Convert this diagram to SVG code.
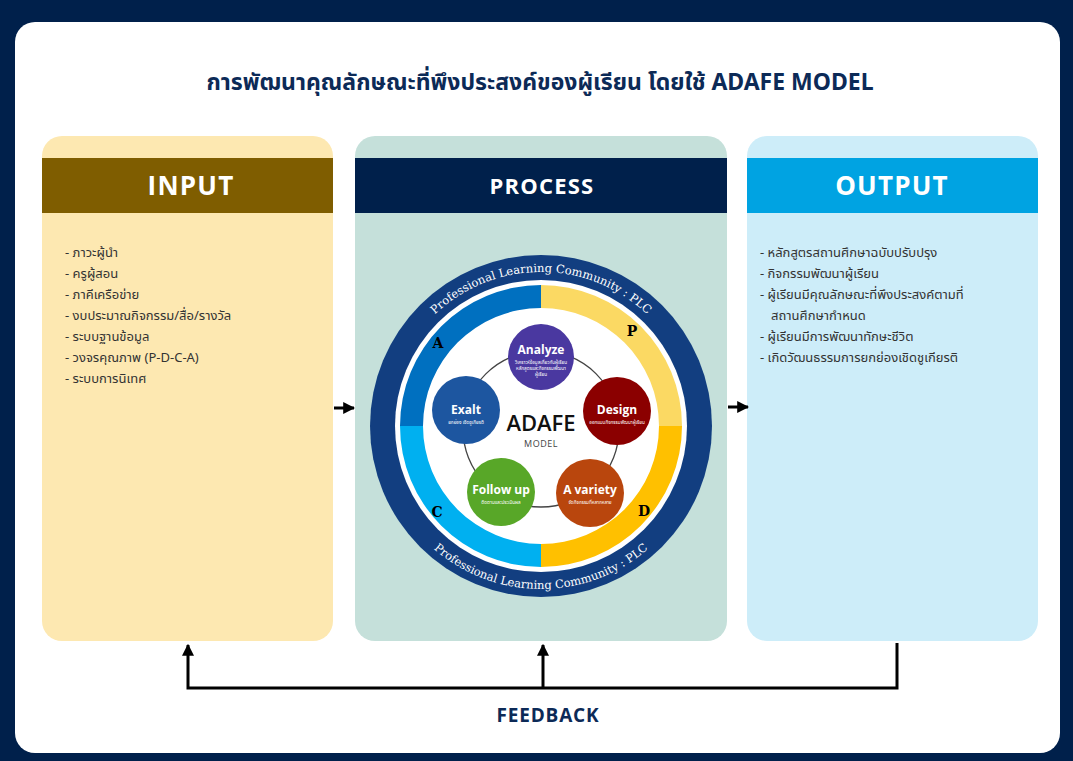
<svg xmlns="http://www.w3.org/2000/svg" width="1073" height="761" viewBox="0 0 1073 761">
<defs>
<style>
.thai{font-family:"Noto Sans","Noto Sans Thai","DejaVu Sans",sans-serif;}
.hdr{font-family:"Open Sans","Inter","Liberation Sans",sans-serif;font-weight:700;fill:#ffffff;text-anchor:middle;letter-spacing:1.2px;}
.item{font-family:"Noto Sans","Noto Sans Thai","DejaVu Sans",sans-serif;font-size:13px;fill:#333333;}
.ntitle{font-family:"Open Sans","Liberation Sans",sans-serif;font-weight:700;font-size:12px;fill:#ffffff;text-anchor:middle;}
.nsub{font-family:"Noto Sans","Noto Sans Thai",sans-serif;font-size:4.6px;fill:#ffffff;text-anchor:middle;}
.pdca{font-family:"DejaVu Serif","Liberation Serif",serif;font-weight:700;font-size:14px;fill:#000000;text-anchor:middle;}
.plc{font-family:"DejaVu Serif","Liberation Serif",serif;font-size:11.5px;fill:#ffffff;}
.fb{stroke:#000000;stroke-width:3;fill:none;}
</style>
<marker id="ah" viewBox="0 0 10 10" refX="9" refY="5" markerWidth="4" markerHeight="4" orient="auto" markerUnits="strokeWidth">
<path d="M0,0 L10,5 L0,10 Z" fill="#000000"/>
</marker>
<path id="plcTop" d="M 387 426 A 154 154 0 0 1 695 426"/>
<path id="plcBot" d="M 378 426 A 163 163 0 0 0 704 426"/>
</defs>

<rect x="0" y="0" width="1073" height="761" fill="#00204b"/>
<rect x="15" y="22" width="1045" height="731" rx="20" ry="20" fill="#ffffff"/>

<text x="540" y="90" class="thai" font-size="23" font-weight="700" fill="#0c2a57" text-anchor="middle">การพัฒนาคุณลักษณะที่พึงประสงค์ของผู้เรียน โดยใช้ ADAFE MODEL</text>

<g id="input">
<rect x="42" y="136" width="291" height="505" rx="20" fill="#fde8b1"/>
<rect x="42" y="158" width="291" height="55" fill="#7f5d00"/>
<text x="191" y="195" class="hdr" font-size="26">INPUT</text>
<text x="65" y="257" class="item">- ภาวะผู้นำ</text>
<text x="65" y="278" class="item">- ครูผู้สอน</text>
<text x="65" y="299" class="item">- ภาคีเครือข่าย</text>
<text x="65" y="320" class="item">- งบประมาณกิจกรรม/สื่อ/รางวัล</text>
<text x="65" y="341" class="item">- ระบบฐานข้อมูล</text>
<text x="65" y="362" class="item">- วงจรคุณภาพ (P-D-C-A)</text>
<text x="65" y="383" class="item">- ระบบการนิเทศ</text>
</g>

<g id="process">
<rect x="355" y="136" width="372" height="505" rx="20" fill="#c5e0da"/>
<rect x="355" y="158" width="372" height="55" fill="#00204b"/>
<text x="542" y="194" class="hdr" font-size="22">PROCESS</text>
</g>

<g id="output">
<rect x="747" y="136" width="291" height="505" rx="20" fill="#cdedf9"/>
<rect x="747" y="158" width="291" height="55" fill="#00a3e2"/>
<text x="892" y="195" class="hdr" font-size="26">OUTPUT</text>
<text x="760" y="257" class="item">- หลักสูตรสถานศึกษาฉบับปรับปรุง</text>
<text x="760" y="278" class="item">- กิจกรรมพัฒนาผู้เรียน</text>
<text x="760" y="299" class="item">- ผู้เรียนมีคุณลักษณะที่พึงประสงค์ตามที่</text>
<text x="771" y="320" class="item">สถานศึกษากำหนด</text>
<text x="760" y="341" class="item">- ผู้เรียนมีการพัฒนาทักษะชีวิต</text>
<text x="760" y="362" class="item">- เกิดวัฒนธรรมการยกย่องเชิดชูเกียรติ</text>
</g>

<g id="adafe-wheel">
<circle cx="541" cy="426" r="171" fill="#123e80"/>
<circle cx="541" cy="426" r="146" fill="#ffffff"/>
<path d="M 400 426 A 141 141 0 0 1 541 285 L 541 308 A 118 118 0 0 0 423 426 Z" fill="#0070c0"/>
<path d="M 541 285 A 141 141 0 0 1 682 426 L 659 426 A 118 118 0 0 0 541 308 Z" fill="#fbd963"/>
<path d="M 682 426 A 141 141 0 0 1 541 567 L 541 544 A 118 118 0 0 0 659 426 Z" fill="#ffc000"/>
<path d="M 541 567 A 141 141 0 0 1 400 426 L 423 426 A 118 118 0 0 0 541 544 Z" fill="#00b0f0"/>
<text class="plc"><textPath href="#plcTop" startOffset="50%" text-anchor="middle">Professional Learning Community : PLC</textPath></text>
<text class="plc"><textPath href="#plcBot" startOffset="50%" text-anchor="middle">Professional Learning Community : PLC</textPath></text>
<text x="438" y="348" class="pdca">A</text>
<text x="632" y="336" class="pdca">P</text>
<text x="437" y="517" class="pdca">C</text>
<text x="644" y="516" class="pdca">D</text>
<circle cx="541" cy="429" r="78" fill="none" stroke="#444444" stroke-width="1.3"/>
<text x="541" y="431" font-family="'Open Sans','Liberation Sans',sans-serif" font-weight="600" font-size="22" fill="#111111" text-anchor="middle">ADAFE</text>
<text x="541" y="447" font-family="'Open Sans','Liberation Sans',sans-serif" font-size="9" fill="#444444" text-anchor="middle" letter-spacing="0.5">MODEL</text>
</g>

<g id="analyze">
<circle cx="541" cy="357" r="33" fill="#4a38a0"/>
<text x="541" y="354" class="ntitle">Analyze</text>
<text x="541" y="364" class="nsub">วิเคราะห์ข้อมูลเกี่ยวกับผู้เรียน</text>
<text x="541" y="370" class="nsub">หลักสูตรและกิจกรรมพัฒนา</text>
<text x="541" y="376" class="nsub">ผู้เรียน</text>
</g>
<g id="design">
<circle cx="617" cy="411" r="34" fill="#8b0000"/>
<text x="617" y="414" class="ntitle">Design</text>
<text x="617" y="424" class="nsub">ออกแบบกิจกรรมพัฒนาผู้เรียน</text>
</g>
<g id="avariety">
<circle cx="590" cy="493" r="34" fill="#b9460d"/>
<text x="590" y="494" class="ntitle">A variety</text>
<text x="590" y="504" class="nsub">จัดกิจกรรมที่หลากหลาย</text>
</g>
<g id="followup">
<circle cx="501" cy="492" r="34" fill="#58a728"/>
<text x="501" y="494" class="ntitle">Follow up</text>
<text x="501" y="504" class="nsub">ติดตามและประเมินผล</text>
</g>
<g id="exalt">
<circle cx="466" cy="410" r="34" fill="#1d56a0"/>
<text x="466" y="414" class="ntitle">Exalt</text>
<text x="466" y="424" class="nsub">ยกย่อง เชิดชูเกียรติ</text>
</g>

<g id="connectors">
<line x1="334" y1="408" x2="354" y2="408" stroke="#000000" stroke-width="3" marker-end="url(#ah)"/>
<line x1="728" y1="407" x2="748" y2="407" stroke="#000000" stroke-width="3" marker-end="url(#ah)"/>
<polyline class="fb" points="897,643 897,688 188,688 188,645" marker-end="url(#ah)"/>
<line class="fb" x1="543" y1="688" x2="543" y2="645" marker-end="url(#ah)"/>
</g>

<text x="548" y="722" font-family="'Open Sans','Inter','Liberation Sans',sans-serif" font-weight="700" font-size="19" fill="#0c2a57" text-anchor="middle" letter-spacing="0.8">FEEDBACK</text>
</svg>
